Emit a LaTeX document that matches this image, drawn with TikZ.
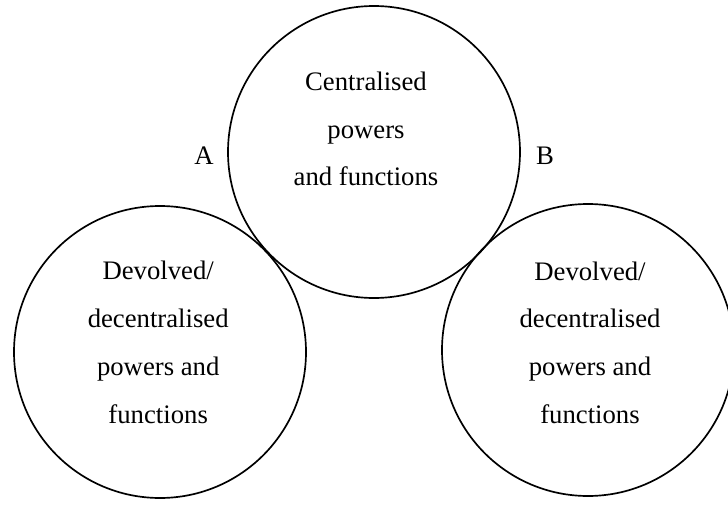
\documentclass[tikz,border=0pt]{standalone}
\usepackage{fontspec}
\setmainfont{Liberation Serif}
\usetikzlibrary{calc}
\usetikzlibrary{positioning}

\begin{document}
\begin{tikzpicture}[
    disc/.style={circle,draw,line width=1.2pt,minimum size=7.3cm,inner sep=0pt},
    blurb/.style={align=center,inner sep=0pt,font=\fontsize{19}{34}\selectfont},
    tag/.style={inner sep=0pt,font=\fontsize{19}{22}\selectfont}
    ]
    \useasboundingbox (0,0) rectangle (18.2,12.6);
    % 1) centre
    \node[disc] (centre) at (9.35,8.8) {};
    \node[blurb] (centretext) at ([xshift=-0.2cm,yshift=0.575cm]centre.center)
      {Centralised\\powers\\and functions};
    % 2) A
    \node[disc] (left) at (4.0,3.8) {};
    \node[blurb] (lefttext) at ([xshift=-0.045cm,yshift=0.245cm]left.center)
      {Devolved/\\decentralised\\powers and\\functions};
    % 3) B
    \node[disc] (right) at (14.7,3.85) {};
    \node[blurb] (righttext) at ([xshift=0.05cm,yshift=0.185cm]right.center)
      {Devolved/\\decentralised\\powers and\\functions};
    % labels
    \node[tag] (a) at (5.1,8.7) {A};
    \node[tag] (b) at (13.625,8.7) {B};
  \end{tikzpicture}
\end{document}
